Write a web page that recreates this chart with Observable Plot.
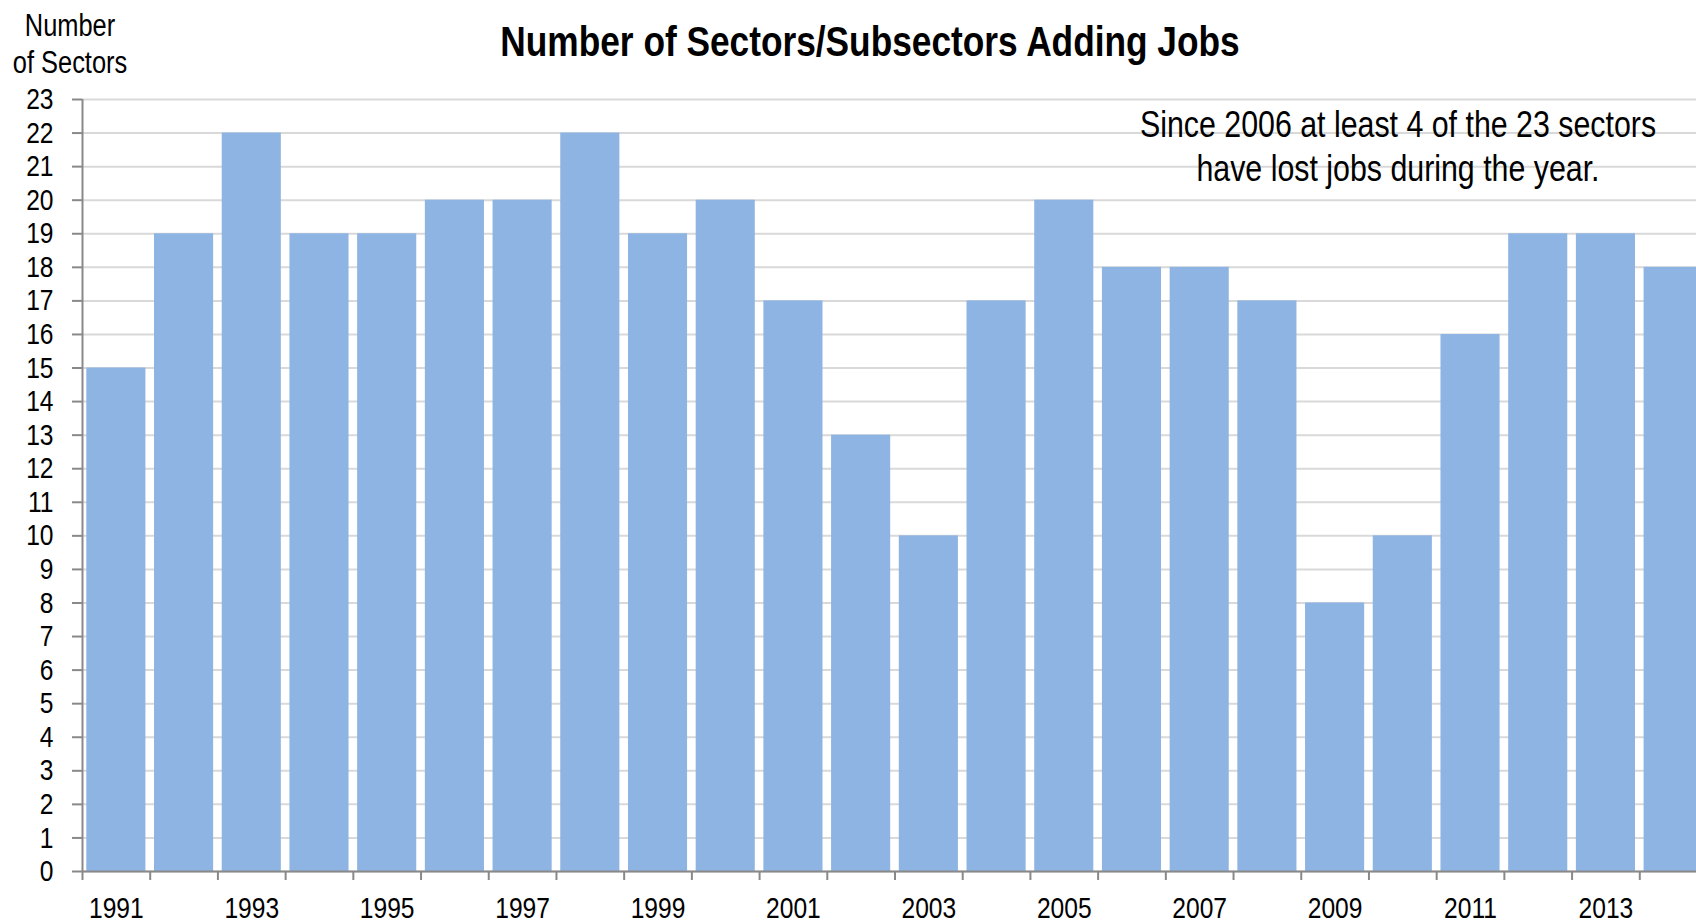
<!DOCTYPE html>
<html>
<head>
<meta charset="utf-8">
<script src="https://cdn.jsdelivr.net/npm/d3@7"></script>
<script src="https://cdn.jsdelivr.net/npm/@observablehq/plot@0.6"></script>
<style>
  html, body { margin: 0; padding: 0; background: #fff; overflow: hidden; }
  #wrap { position: relative; width: 1696px; height: 923px; font-family: "Liberation Sans", Arial, sans-serif; color: #000; }
  #wrap svg { position: absolute; left: 0; top: 0; }
  .lbl { position: absolute; white-space: nowrap; text-align: center; transform: translateX(-50%) scaleX(0.82); }
  #title { left: 870px; top: 20px; font-size: 43px; font-weight: bold; line-height: 1; }
  #ylab { left: 70px; top: 7px; font-size: 31px; line-height: 37px; }
  #note { left: 1398px; top: 103px; font-size: 37px; line-height: 44px; }
</style>
</head>
<body>
<div id="wrap">
  <div id="title" class="lbl">Number of Sectors/Subsectors Adding Jobs</div>
  <div id="ylab" class="lbl">Number<br>of Sectors</div>
  <div id="note" class="lbl">Since 2006 at least 4 of the 23 sectors<br>have lost jobs during the year.</div>
</div>
<script>
const years = [1991,1992,1993,1994,1995,1996,1997,1998,1999,2000,2001,2002,2003,2004,2005,2006,2007,2008,2009,2010,2011,2012,2013,2014];
const values = [15,19,22,19,19,20,20,22,19,20,17,13,10,17,20,18,18,17,8,10,16,19,19,18];
const yTicks = d3.range(0, 24);
const xLabelYears = years.filter(y => y % 2 === 1);
const boundaries = years.map(y => y - 0.5).concat([years[years.length - 1] + 0.5]);
const data = years.map((year, i) => ({year, value: values[i]}));

const font = "'Liberation Sans', Arial, sans-serif";
const chart = Plot.plot({
  width: 1696,
  height: 923,
  marginTop: 99,
  marginBottom: 52,
  marginLeft: 82,
  marginRight: 0,
  style: {fontFamily: font, fontSize: "30px", color: "#000", background: "transparent"},
  x: {type: "linear", domain: [years[0] - 0.5, years[years.length - 1] + 0.5], range: [82, 1707], axis: null, label: null},
  y: {domain: [0, 23], axis: null, label: null},
  marks: [
    Plot.ruleY(yTicks, {stroke: "#d9d9d9", strokeWidth: 2}),
    Plot.rectY(data, {x1: d => d.year - 0.5, x2: d => d.year + 0.5, y: "value", fill: "#8eb4e3", insetLeft: 4.3, insetRight: 4.3}),
    Plot.ruleX([years[0] - 0.5], {stroke: "#898989", strokeWidth: 2}),
    Plot.ruleY([0], {stroke: "#898989", strokeWidth: 2}),
    Plot.axisY({ticks: yTicks, label: null, tickSize: 10, tickPadding: 19, stroke: "#898989", strokeWidth: 2, color: "#000", fontSize: 30, tickFormat: d => String(d)}),
    Plot.axisX({ticks: boundaries, label: null, tickSize: 9, tickFormat: () => "", stroke: "#898989", strokeWidth: 2}),
    Plot.axisX({ticks: xLabelYears, label: null, tickSize: 0, tickPadding: 25, fontSize: 30, color: "#000", tickFormat: d => String(d)})
  ]
});
// Emulate a narrow typeface by horizontally condensing each SVG text around its anchor
chart.querySelectorAll("text").forEach(t => {
  const tr = t.getAttribute("transform") || "";
  t.setAttribute("transform", `${tr} scale(0.82,1)`);
});
document.getElementById("wrap").prepend(chart);
</script>
</body>
</html>
